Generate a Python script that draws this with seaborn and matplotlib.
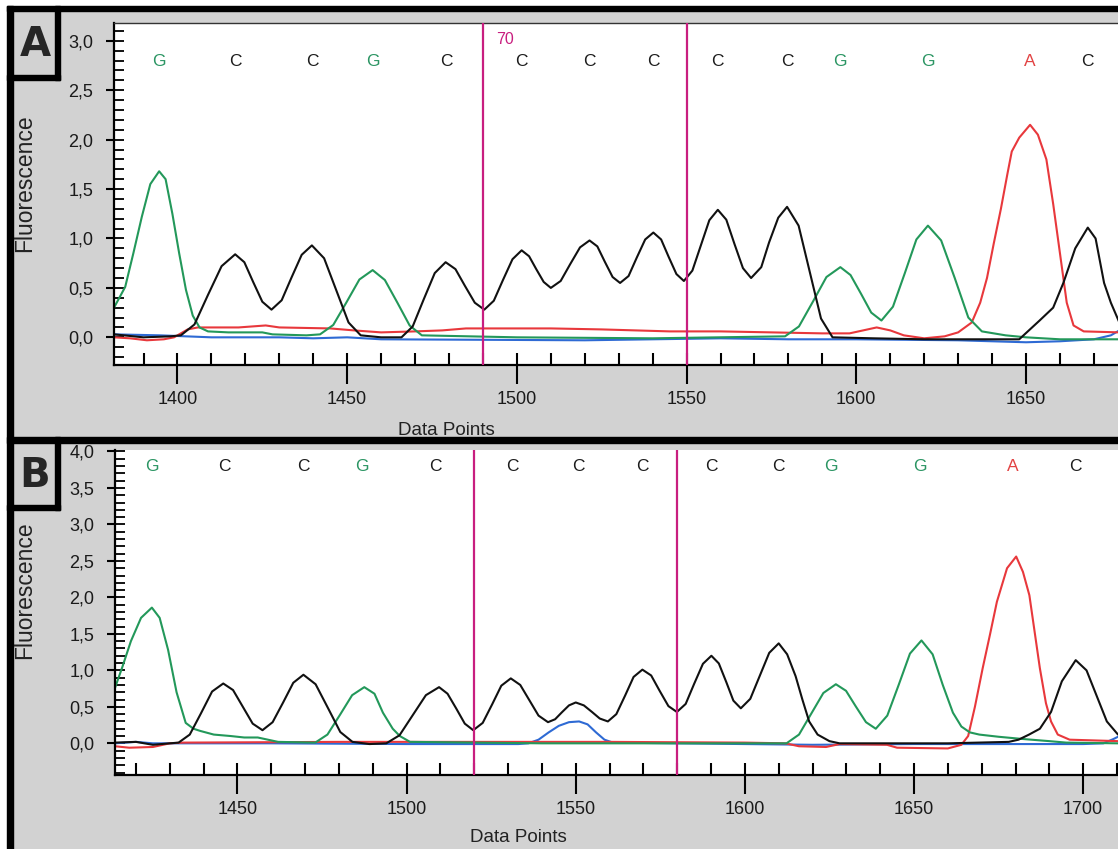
import pandas as pd
import seaborn as sns
import matplotlib.pyplot as plt
from matplotlib.patches import Rectangle
from matplotlib.ticker import MultipleLocator, FuncFormatter

# ---- panel A traces (data point, fluorescence) ----
a_black = [(1381.3, 0.03), (1390, 0.0), (1398, 0.01), (1401, 0.02), (1405, 0.13), (1409, 0.43), (1413, 0.72),
           (1417, 0.84), (1419.7, 0.76), (1422.3, 0.56), (1425, 0.36), (1427.7, 0.28), (1430.7, 0.375),
           (1433.6, 0.605), (1436.6, 0.835), (1439.6, 0.93), (1443.2, 0.80), (1446.8, 0.475), (1450.4, 0.15),
           (1454, 0.02), (1460, 0.0), (1466, 0.0), (1469.3, 0.11), (1472.5, 0.38), (1475.8, 0.65), (1479, 0.76),
           (1481.9, 0.69), (1484.7, 0.52), (1487.6, 0.35), (1490.4, 0.28), (1493.2, 0.37), (1495.9, 0.58),
           (1498.7, 0.79), (1501.4, 0.88), (1503.6, 0.82), (1505.7, 0.69), (1507.9, 0.56), (1510, 0.50),
           (1512.9, 0.57), (1515.7, 0.74), (1518.6, 0.91), (1521.4, 0.98), (1523.7, 0.92), (1525.9, 0.765),
           (1528.2, 0.61), (1530.4, 0.55), (1532.9, 0.62), (1535.3, 0.805), (1537.8, 0.99), (1540.2, 1.06),
           (1542.5, 0.99), (1544.7, 0.815), (1547, 0.64), (1549.2, 0.57), (1551.7, 0.675), (1554.2, 0.93),
           (1556.7, 1.185), (1559.2, 1.29), (1561.7, 1.19), (1564.1, 0.945), (1566.6, 0.70), (1569, 0.60),
           (1572, 0.71), (1574.3, 0.96), (1577, 1.21), (1579.6, 1.32), (1583, 1.13), (1586.3, 0.66),
           (1589.6, 0.19), (1593, 0.0), (1605, -0.01), (1620, -0.02), (1635, -0.02), (1648, -0.02),
           (1654, 0.17), (1658, 0.30), (1661, 0.55), (1664.5, 0.90), (1668.2, 1.11), (1670.5, 1.00),
           (1673, 0.55), (1675, 0.35), (1677.5, 0.15)]
a_green = [(1381.3, 0.30), (1384.6, 0.51), (1387, 0.85), (1389.5, 1.22), (1392, 1.55), (1394.6, 1.68),
           (1396.5, 1.60), (1398.5, 1.25), (1400.5, 0.85), (1402.5, 0.48), (1404.5, 0.22), (1406.5, 0.10),
           (1409, 0.06), (1415, 0.05), (1425, 0.05), (1428, 0.03), (1438, 0.02), (1442, 0.03), (1445.9, 0.125),
           (1449.8, 0.355), (1453.6, 0.585), (1457.5, 0.68), (1461.1, 0.58), (1464.8, 0.35), (1468.4, 0.12),
           (1472, 0.02), (1500, 0.0), (1540, -0.01), (1579, 0.01), (1583.1, 0.11), (1587.2, 0.36),
           (1591.2, 0.61), (1595.3, 0.71), (1598.3, 0.63), (1601.4, 0.44), (1604.4, 0.25), (1607.4, 0.17),
           (1610.8, 0.31), (1614.3, 0.65), (1617.7, 0.99), (1621.1, 1.13), (1625, 0.98), (1629, 0.60),
           (1633, 0.20), (1637, 0.06), (1644, 0.02), (1650, 0.0), (1660, -0.02), (1677.5, -0.02)]
a_red = [(1381.3, 0.0), (1386, -0.01), (1391, -0.03), (1396, -0.02), (1399, 0.0), (1403, 0.08), (1406, 0.10),
         (1418, 0.10), (1426, 0.12), (1430, 0.10), (1445, 0.09), (1452, 0.07), (1460, 0.05), (1470, 0.06),
         (1478, 0.07), (1485, 0.09), (1510, 0.09), (1525, 0.08), (1545, 0.06), (1560, 0.06), (1575, 0.05),
         (1590, 0.04), (1598, 0.04), (1602, 0.07), (1606, 0.10), (1610, 0.07), (1614, 0.02), (1620, -0.01),
         (1626, 0.01), (1630, 0.05), (1634, 0.15), (1636.5, 0.35), (1638.5, 0.60), (1640.5, 0.95),
         (1642.6, 1.30), (1644.5, 1.65), (1645.8, 1.88), (1648, 2.02), (1651.2, 2.15), (1653.5, 2.05),
         (1656, 1.80), (1658, 1.35), (1660, 0.85), (1662, 0.35), (1664, 0.12), (1667, 0.06), (1677.5, 0.05)]
a_blue = [(1381.3, 0.03), (1395, 0.02), (1410, 0.0), (1430, 0.0), (1440, -0.01), (1450, 0.0), (1460, -0.02),
          (1520, -0.03), (1560, -0.01), (1580, -0.02), (1600, -0.02), (1630, -0.03), (1650, -0.05),
          (1660, -0.04), (1670, -0.02), (1675, 0.02), (1677.5, 0.07)]

# ---- panel B traces ----
b_black = [(1413.8, 0.01), (1420, 0.02), (1425, -0.02), (1430, 0.0), (1432.6, 0.01), (1435.9, 0.12),
           (1439.2, 0.41), (1442.5, 0.71), (1445.8, 0.82), (1448.7, 0.73), (1451.6, 0.50), (1454.5, 0.27),
           (1457.4, 0.18), (1460.4, 0.29), (1463.5, 0.56), (1466.5, 0.83), (1469.5, 0.94), (1473.1, 0.81),
           (1476.8, 0.48), (1480.4, 0.155), (1484, 0.02), (1489, -0.01), (1494, 0.0), (1497.9, 0.11),
           (1501.8, 0.385), (1505.7, 0.66), (1509.6, 0.77), (1512.1, 0.68), (1514.7, 0.475), (1517.2, 0.27),
           (1519.7, 0.18), (1522.5, 0.28), (1525.3, 0.535), (1528, 0.79), (1530.8, 0.89), (1533.6, 0.80),
           (1536.3, 0.59), (1539, 0.38), (1541.8, 0.29), (1543.9, 0.33), (1545.9, 0.425), (1548, 0.52),
           (1550, 0.56), (1552.4, 0.52), (1554.8, 0.43), (1557.1, 0.34), (1559.5, 0.30), (1562, 0.40),
           (1564.6, 0.655), (1567.1, 0.91), (1569.7, 1.01), (1572.3, 0.93), (1574.8, 0.72), (1577.4, 0.51),
           (1579.9, 0.43), (1582.5, 0.54), (1585, 0.815), (1587.6, 1.09), (1590.1, 1.20), (1592.3, 1.095),
           (1594.5, 0.84), (1596.6, 0.585), (1598.8, 0.48), (1601.6, 0.61), (1604.4, 0.925), (1607.2, 1.24),
           (1610, 1.37), (1612.5, 1.22), (1615, 0.92), (1617, 0.60), (1619, 0.30), (1621.5, 0.12),
           (1625, 0.03), (1628, 0.0), (1640, 0.0), (1660, 0.0), (1678, 0.02), (1680.9, 0.05), (1684, 0.12),
           (1687.2, 0.20), (1690.5, 0.43), (1693.7, 0.85), (1697.8, 1.14), (1701, 1.0), (1704, 0.65),
           (1707, 0.30), (1710.3, 0.12)]
b_green = [(1413.8, 0.76), (1416, 1.05), (1418.5, 1.40), (1421.5, 1.72), (1424.7, 1.86), (1427, 1.72),
           (1429.5, 1.28), (1432, 0.70), (1434.7, 0.28), (1437, 0.20), (1439, 0.17), (1443, 0.12),
           (1448, 0.10), (1452, 0.08), (1456, 0.08), (1459, 0.05), (1462, 0.02), (1473, 0.01), (1476.6, 0.12),
           (1480.3, 0.39), (1483.9, 0.66), (1487.5, 0.77), (1490.5, 0.68), (1493, 0.42), (1495.9, 0.20),
           (1498, 0.10), (1501, 0.02), (1540, 0.0), (1580, 0.0), (1612.3, 0.0), (1616, 0.12), (1619.6, 0.405),
           (1623.2, 0.69), (1626.9, 0.81), (1629.9, 0.72), (1632.8, 0.505), (1635.8, 0.29), (1638.7, 0.20),
           (1642.1, 0.38), (1645.5, 0.805), (1648.8, 1.23), (1652.2, 1.41), (1655.5, 1.22), (1658.5, 0.80),
           (1661.5, 0.42), (1664, 0.23), (1666.5, 0.15), (1669.3, 0.12), (1675, 0.09), (1682, 0.06),
           (1690, 0.03), (1695, 0.01), (1710.3, 0.0)]
b_red = [(1413.8, -0.04), (1418, -0.06), (1425, -0.05), (1430, 0.0), (1434, 0.01), (1480, 0.02), (1520, 0.02),
         (1560, 0.02), (1600, 0.01), (1612, 0.0), (1616, -0.04), (1624, -0.05), (1628, -0.01), (1642, -0.02),
         (1645, -0.06), (1660, -0.07), (1664, -0.02), (1666, 0.10), (1668, 0.50), (1670.3, 1.03),
         (1672.5, 1.50), (1674.5, 1.94), (1677.5, 2.40), (1680.2, 2.56), (1682.2, 2.35), (1684.1, 2.03),
         (1687.2, 1.03), (1689, 0.55), (1690.5, 0.30), (1692.5, 0.12), (1696, 0.05), (1710.3, 0.03)]
b_blue = [(1413.8, 0.0), (1420, 0.02), (1425, 0.0), (1460, 0.0), (1500, -0.01), (1533, -0.01), (1536, 0.0),
          (1539, 0.05), (1542, 0.15), (1545, 0.24), (1548, 0.29), (1551, 0.30), (1553.5, 0.26), (1556, 0.15),
          (1558.5, 0.05), (1561, 0.01), (1580, 0.0), (1620, -0.02), (1650, -0.01), (1700, -0.01),
          (1706, 0.0), (1709, 0.06), (1710.3, 0.09)]

# base calls printed along the top
a_bases = list("GCCGCCCCCCGGAC")
a_base_pos = [1394.6, 1417.0, 1439.6, 1457.5, 1479.1, 1501.4, 1521.4, 1540.2, 1559.2, 1579.6,
              1595.3, 1621.1, 1651.2, 1668.2]
b_bases = list("GCCGCCCCCCGGAC")
b_base_pos = [1424.7, 1446.1, 1469.5, 1486.9, 1508.6, 1531.3, 1550.8, 1569.7, 1590.1, 1610.0,
              1625.5, 1651.6, 1679.1, 1697.8]

a_markers = [1490, 1550]
b_markers = [1520, 1580]

trace_colors = {'black': '#111111', 'green': '#23985a', 'red': '#e8383c', 'blue': '#2e6ad4'}
base_colors = {'G': '#2b9563', 'C': '#1c1c1c', 'A': '#e24343', 'T': '#e24343'}
MAGENTA = '#c81e7f'

W, H = 1118, 849

sns.set_style('white')
plt.rcParams['font.family'] = ['Liberation Sans', 'DejaVu Sans']

fig = plt.figure(figsize=(W / 100, H / 100), dpi=100)
fig.patch.set_facecolor('white')


def px_axes(left, top, right, bottom):
    return fig.add_axes([left / W, 1 - bottom / H, (right - left) / W, (bottom - top) / H])


def comma(v, pos):
    return f'{v:.1f}'.replace('.', ',')


def draw_panel(ax, traces, bases, base_pos, base_y, markers, xlim, ylim, top_spine):
    ax.set_facecolor('white')
    for name in ['blue', 'red', 'green', 'black']:
        df = pd.DataFrame(traces[name], columns=['dp', 'fl'])
        sns.lineplot(data=df, x='dp', y='fl', ax=ax, color=trace_colors[name],
                     linewidth=1.5, estimator=None, sort=False)
    for m in markers:
        ax.axvline(m, color=MAGENTA, lw=1.6, zorder=5)
    for b, p in zip(bases, base_pos):
        ax.text(p, base_y, b, color=base_colors[b], fontsize=12.5, ha='center', va='center')
    ax.set_xlim(*xlim)
    ax.set_ylim(*ylim)
    ax.set_xlabel('')
    ax.set_ylabel('')
    ax.xaxis.set_major_locator(MultipleLocator(50))
    ax.xaxis.set_minor_locator(MultipleLocator(10))
    ax.yaxis.set_major_locator(MultipleLocator(0.5))
    ax.yaxis.set_minor_locator(MultipleLocator(0.1))
    ax.xaxis.remove_overlapping_locs = False
    ax.yaxis.remove_overlapping_locs = False
    ax.yaxis.set_major_formatter(FuncFormatter(comma))
    ax.tick_params(axis='both', which='both', bottom=True, left=True, top=False, right=False,
                   color='black', labelcolor='#1a1a1a')
    ax.tick_params(axis='x', which='major', direction='out', length=14, width=1.5, labelsize=13, pad=5)
    ax.tick_params(axis='x', which='minor', direction='in', length=8.5, width=1.5)
    ax.tick_params(axis='y', which='major', direction='out', length=6, width=1.5, labelsize=13, pad=9)
    ax.tick_params(axis='y', which='minor', direction='in', length=7, width=1.3)
    ax.spines['right'].set_visible(False)
    ax.spines['top'].set_visible(top_spine)
    ax.spines['top'].set_color('#333333')
    ax.spines['top'].set_linewidth(1.0)
    for s in ['left', 'bottom']:
        ax.spines[s].set_color('black')
        ax.spines[s].set_linewidth(1.6)


# gray panel backgrounds
bg = fig.add_axes([0, 0, 1, 1], zorder=0)
bg.set_xlim(0, W)
bg.set_ylim(H, 0)
bg.axis('off')
bg.add_patch(Rectangle((10, 8), W, H, color='#d2d2d2'))

ax_a = px_axes(114, 23, W, 365)
draw_panel(ax_a, {'black': a_black, 'green': a_green, 'red': a_red, 'blue': a_blue},
           a_bases, a_base_pos, 2.79, a_markers, (1381.3, 1677.1), (-0.28, 3.18), True)
ax_a.text(1494, 3.01, '70', color=MAGENTA, fontsize=11.5, ha='left', va='center')

ax_b = px_axes(115, 450, W, 775)
draw_panel(ax_b, {'black': b_black, 'green': b_green, 'red': b_red, 'blue': b_blue},
           b_bases, b_base_pos, 3.79, b_markers, (1413.8, 1710.3), (-0.434, 4.02), False)
ax_b.text(1646.6, 4.12, '90', color=MAGENTA, fontsize=11.5, ha='center', va='center', clip_on=True)

# frame lines, panel boxes and axis titles drawn in pixel space on top
ov = fig.add_axes([0, 0, 1, 1], zorder=10)
ov.set_xlim(0, W)
ov.set_ylim(H, 0)
ov.axis('off')
for (x0, y0, x1, y1) in [(7, 6, W, 11), (7, 6, 13, H), (7, 437, W, 443),
                         (55, 6, 60, 80), (7, 75, 60, 80), (55, 437, 60, 510), (7, 505, 60, 510)]:
    ov.add_patch(Rectangle((x0, y0), x1 - x0, y1 - y0, color='black'))
ov.text(35, 45, 'A', fontsize=29, fontweight='bold', ha='center', va='center', family='DejaVu Sans')
ov.text(35, 476, 'B', fontsize=29, fontweight='bold', ha='center', va='center', family='DejaVu Sans')
ov.text(25, 183, 'Fluorescence', rotation=90, fontsize=16.5, ha='center', va='center', color='#222222')
ov.text(25, 590, 'Fluorescence', rotation=90, fontsize=16.5, ha='center', va='center', color='#222222')
ov.text(446, 430, 'Data Points', fontsize=13.5, ha='center', va='center', color='#222222')
ov.text(518, 838, 'Data Points', fontsize=13.5, ha='center', va='center', color='#222222')

plt.savefig('out.png', dpi=100, facecolor=fig.get_facecolor())
